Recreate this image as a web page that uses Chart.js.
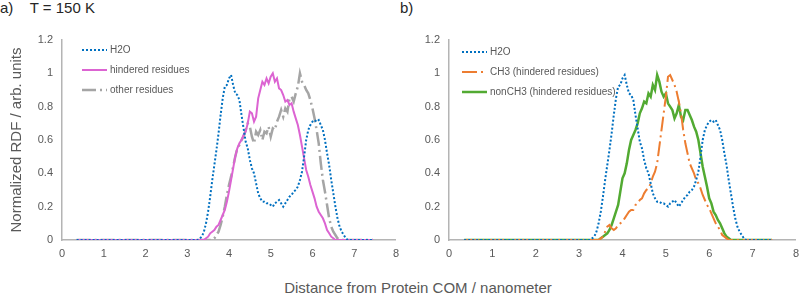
<!DOCTYPE html>
<html>
<head>
<meta charset="utf-8">
<script src="https://cdn.jsdelivr.net/npm/chart.js@4.4.1/dist/chart.umd.min.js"></script>
<style>
  html, body { margin: 0; padding: 0; background: #fff; overflow: hidden; }
  body { width: 800px; height: 297px; position: relative; font-family: "Liberation Sans", Arial, sans-serif; }
  .wrap { position: absolute; top: 0; height: 270px; }
  #panelA { left: 0; width: 406px; }
  #panelB { left: 400px; width: 406px; }
  .lbl { position: absolute; top: -1px; font-size: 15px; line-height: 17px; color: #262626; white-space: pre; }
  #xTitle { position: absolute; left: 0; width: 836px; top: 279px; text-align: center; font-size: 15px; line-height: 17px; color: #595959; }
</style>
</head>
<body>
<div class="lbl" style="left:0">a)    T = 150 K</div>
<div class="lbl" style="left:400px">b)</div>
<div class="wrap" id="panelA"><canvas id="chartA" width="406" height="270"></canvas></div>
<div class="wrap" id="panelB"><canvas id="chartB" width="406" height="270"></canvas></div>
<div id="xTitle">Distance from Protein COM / nanometer</div>
<script>
// distance from protein COM (nm)
const distance = [0.35,
  3.20, 3.25, 3.30, 3.35, 3.40, 3.45, 3.50, 3.55, 3.60, 3.65,
  3.70, 3.75, 3.80, 3.85, 3.90, 3.95, 4.00, 4.05, 4.10, 4.15,
  4.20, 4.25, 4.30, 4.35, 4.40, 4.45, 4.50, 4.55, 4.60, 4.65,
  4.70, 4.75, 4.80, 4.85, 4.90, 4.95, 5.00, 5.05, 5.10, 5.15,
  5.20, 5.25, 5.30, 5.35, 5.40, 5.45, 5.50, 5.55, 5.60, 5.65,
  5.70, 5.75, 5.80, 5.85, 5.90, 5.95, 6.00, 6.05, 6.10, 6.15,
  6.20, 6.25, 6.30, 6.35, 6.40, 6.45, 6.50, 6.55, 6.60, 6.65,
  6.70, 6.75, 6.80, 6.85, 6.90,
  7.45];

const h2o = [0,
  0, 0, 0.01, 0.02, 0.05, 0.10, 0.17, 0.26, 0.36, 0.45,
  0.54, 0.64, 0.75, 0.85, 0.92, 0.93, 0.97, 0.99, 0.93, 0.88,
  0.87, 0.84, 0.75, 0.67, 0.59, 0.55, 0.48, 0.43, 0.40, 0.34,
  0.28, 0.25, 0.23, 0.23, 0.22, 0.22, 0.21, 0.20, 0.22, 0.23,
  0.24, 0.22, 0.20, 0.22, 0.24, 0.26, 0.27, 0.29, 0.30, 0.32,
  0.36, 0.41, 0.50, 0.60, 0.66, 0.69, 0.71, 0.72, 0.71, 0.72,
  0.69, 0.66, 0.60, 0.52, 0.45, 0.36, 0.28, 0.20, 0.13, 0.08,
  0.05, 0.03, 0.01, 0, 0,
  0];

const hindered = [0,
  0, 0, 0, 0, 0, 0.01, 0.02, 0.04, 0.05, 0.06,
  0.08, 0.09, 0.12, 0.15, 0.18, 0.23, 0.29, 0.36, 0.43, 0.50,
  0.55, 0.58, 0.60, 0.63, 0.65, 0.70, 0.77, 0.76, 0.71, 0.74,
  0.85, 0.90, 0.95, 0.93, 0.97, 0.94, 0.98, 1.00, 0.95, 0.97,
  0.91, 0.90, 0.87, 0.83, 0.84, 0.81, 0.82, 0.77, 0.73, 0.69,
  0.63, 0.56, 0.49, 0.42, 0.38, 0.33, 0.29, 0.25, 0.20, 0.17,
  0.15, 0.13, 0.10, 0.06, 0.04, 0.02, 0.01, 0, 0, 0,
  0, 0, 0, 0, 0,
  0];

const other = [0,
  0, 0, 0, 0, 0, 0, 0, 0, 0, 0.01,
  0.03, 0.05, 0.09, 0.14, 0.20, 0.27, 0.33, 0.38, 0.44, 0.50,
  0.55, 0.57, 0.60, 0.62, 0.66, 0.70, 0.68, 0.62, 0.58, 0.65,
  0.63, 0.66, 0.60, 0.65, 0.64, 0.68, 0.62, 0.67, 0.66, 0.71,
  0.74, 0.78, 0.74, 0.79, 0.77, 0.85, 0.86, 0.83, 0.88, 0.92,
  1.00, 0.95, 0.93, 0.90, 0.88, 0.84, 0.79, 0.73, 0.66, 0.58,
  0.46, 0.36, 0.29, 0.21, 0.13, 0.08, 0.05, 0.03, 0.01, 0,
  0, 0, 0, 0, 0,
  0];

const ch3 = [0,
  0, 0, 0, 0, 0, 0, 0.01, 0.02, 0.05, 0.08,
  0.09, 0.07, 0.06, 0.07, 0.09, 0.10, 0.11, 0.13, 0.15, 0.17,
  0.18, 0.18, 0.21, 0.22, 0.24, 0.25, 0.28, 0.30, 0.31, 0.34,
  0.38, 0.41, 0.46, 0.56, 0.66, 0.76, 0.86, 0.98, 0.99, 0.96,
  0.93, 0.89, 0.83, 0.76, 0.66, 0.58, 0.52, 0.46, 0.43, 0.40,
  0.36, 0.34, 0.31, 0.27, 0.24, 0.21, 0.19, 0.16, 0.13, 0.10,
  0.08, 0.06, 0.03, 0.02, 0.01, 0, 0, 0, 0, 0,
  0, 0, 0, 0, 0,
  0];

const nonCh3 = [0,
  0, 0, 0, 0, 0, 0, 0.01, 0.02, 0.03, 0.04,
  0.06, 0.09, 0.13, 0.17, 0.21, 0.29, 0.37, 0.40, 0.46, 0.54,
  0.60, 0.63, 0.66, 0.70, 0.76, 0.79, 0.83, 0.82, 0.88, 0.86,
  0.93, 0.90, 0.99, 0.95, 0.89, 0.86, 0.88, 0.82, 0.80, 0.78,
  0.73, 0.76, 0.81, 0.74, 0.72, 0.78, 0.78, 0.75, 0.72, 0.68,
  0.65, 0.60, 0.52, 0.44, 0.38, 0.32, 0.25, 0.22, 0.17, 0.15,
  0.12, 0.10, 0.07, 0.04, 0.02, 0.01, 0, 0, 0, 0,
  0, 0, 0, 0, 0,
  0];

const FONT = '"Liberation Sans", Arial, sans-serif';
const pts = arr => distance.map((d, i) => ({ x: d, y: arr[i] }));

function line(label, arr, color, width, dash) {
  return {
    label: label,
    data: pts(arr),
    borderColor: color,
    borderWidth: width,
    borderDash: dash,
    pointRadius: 0,
    tension: 0,
    fill: false
  };
}

// legend drawn inside the plot, Excel style
const inlineLegend = {
  id: 'inlineLegend',
  afterDatasetsDraw(chart, args, opts) {
    const ctx = chart.ctx;
    ctx.save();
    chart.data.datasets.forEach((ds, i) => {
      const y = opts.y + i * 20;
      ctx.beginPath();
      ctx.strokeStyle = ds.borderColor;
      ctx.lineWidth = ds.borderWidth;
      ctx.setLineDash(ds.borderDash || []);
      ctx.moveTo(opts.x, y);
      ctx.lineTo(opts.x + 25, y);
      ctx.stroke();
      ctx.setLineDash([]);
      ctx.fillStyle = '#595959';
      ctx.font = '10px ' + FONT;
      ctx.textBaseline = 'middle';
      ctx.fillText(ds.label, opts.x + 28, y);
    });
    ctx.restore();
  }
};

function makeOptions(yWidth, padRight, legendX, legendY, withTitle) {
  return {
    responsive: false,
    animation: false,
    devicePixelRatio: 1,
    layout: { padding: { top: 40, right: padRight, left: 0, bottom: 0 } },
    plugins: {
      legend: { display: false },
      tooltip: { enabled: false },
      inlineLegend: { x: legendX, y: legendY }
    },
    scales: {
      x: {
        type: 'linear',
        min: 0,
        max: 8,
        grid: { display: false, drawTicks: false },
        border: { display: true, color: '#B4B4B4', width: 1.5 },
        ticks: { stepSize: 1, padding: 7, color: '#595959', font: { family: FONT, size: 11 } },
        afterFit: s => { s.height = 30; }
      },
      y: {
        min: 0,
        max: 1.2,
        grid: { display: false, drawTicks: false },
        border: { display: true, color: '#B4B4B4', width: 1.5 },
        ticks: {
          stepSize: 0.2,
          padding: 9,
          color: '#595959',
          font: { family: FONT, size: 11 },
          callback: v => String(Math.round(v * 10) / 10)
        },
        title: {
          display: withTitle,
          text: 'Normalized RDF / arb. units',
          color: '#595959',
          font: { family: FONT, size: 15 },
          padding: { top: 8, bottom: 0 }
        },
        afterFit: s => { s.width = yWidth; }
      }
    }
  };
}

new Chart(document.getElementById('chartA'), {
  type: 'line',
  data: {
    datasets: [
      line('H2O', h2o, '#0070C0', 2, [2, 2]),
      line('hindered residues', hindered, '#DC64D2', 2, []),
      line('other residues', other, '#A5A5A5', 2.5, [14, 4, 2, 4])
    ]
  },
  options: makeOptions(62, 8, 82, 50, true),
  plugins: [inlineLegend]
});

new Chart(document.getElementById('chartB'), {
  type: 'line',
  data: {
    datasets: [
      line('H2O', h2o, '#0070C0', 2, [2, 2]),
      line('CH3 (hindered residues)', ch3, '#ED7D31', 2, [15, 4, 2, 4]),
      line('nonCH3 (hindered residues)', nonCh3, '#52AA32', 2.5, [])
    ]
  },
  options: makeOptions(49, 9, 62, 52, false),
  plugins: [inlineLegend]
});
</script>
</body>
</html>
